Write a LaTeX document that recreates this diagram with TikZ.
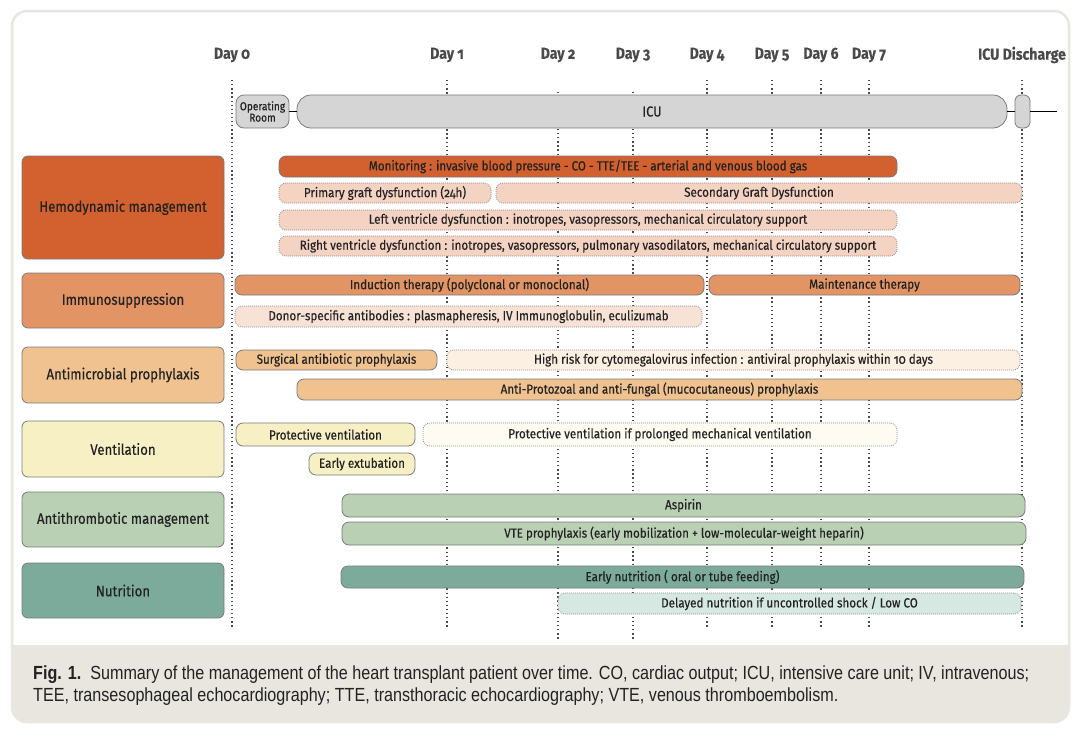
\documentclass[tikz,border=0pt]{standalone}
\usepackage{fontspec}
\setmainfont[Numbers=OldStyle,FakeStretch=0.88,FakeBold=0.35]{Fira Sans}
\newfontfamily\capfont[FakeStretch=0.85]{Liberation Sans}
\usetikzlibrary{positioning}
\definecolor{framec}{HTML}{E9E6E0}
\definecolor{boxline}{HTML}{7A7A7A}
\definecolor{dotline}{HTML}{8C8C8C}
\definecolor{dayc}{HTML}{4A4A4A}
\definecolor{txt}{HTML}{222222}
\definecolor{icugray}{HTML}{D5D5D5}
\definecolor{hemo}{HTML}{D2612F}
\definecolor{hemolight}{HTML}{F5D3C3}
\definecolor{immuno}{HTML}{E39464}
\definecolor{immunolight}{HTML}{F8E2D5}
\definecolor{micro}{HTML}{EFC290}
\definecolor{microlight}{HTML}{FCF0E2}
\definecolor{vent}{HTML}{F6F0C4}
\definecolor{ventlight}{HTML}{FEFCF2}
\definecolor{thromb}{HTML}{B9D0B4}
\definecolor{nutri}{HTML}{7CAA9B}
\definecolor{nutrilight}{HTML}{D5E8E2}
\tikzset{
  catbox/.style={draw=boxline,line width=0.8pt,rounded corners=6pt,minimum width=202pt,
    inner sep=0pt,outer sep=0pt,text=txt,font=\fontsize{15}{17}\selectfont},
  solidbar/.style={draw=boxline,line width=0.8pt,rounded corners=7pt,inner sep=0pt,
    outer sep=0pt,text=txt,font=\fontsize{13.2}{15}\selectfont},
  dotbar/.style={solidbar,draw=dotline,line width=0.7pt,dash pattern=on 0.9pt off 1.1pt},
  dayline/.style={draw=dayc,line width=1.3pt,dash pattern=on 1.3pt off 2.8pt},
  daylabel/.style={text=dayc,font=\bfseries\fontsize{16}{18}\selectfont},
  timebox/.style={draw=boxline,line width=0.8pt,fill=icugray,rounded corners=8pt,
    inner sep=0pt,outer sep=0pt,minimum height=33pt,text=txt}
}

\begin{document}
\begin{tikzpicture}[x=1pt,y=-1pt]
\useasboundingbox (0,0) rectangle (1080,729);
% frame and caption band
\begin{scope}
\clip[rounded corners=15pt] (12,11) rectangle (1069,722);
\fill[framec] (0,645) rectangle (1080,729);
\end{scope}
\draw[framec,line width=2.5pt,rounded corners=15pt] (12,11) rectangle (1069,722);
%
\node (d0) [daylabel] at (232,55) {Day 0};
\node (d1) [daylabel] at (447,55) {Day 1};
\node (d2) [daylabel] at (558,55) {Day 2};
\node (d3) [daylabel] at (633,55) {Day 3};
\node (d4) [daylabel] at (707,55) {Day 4};
\node (d5) [daylabel] at (772,55) {Day 5};
\node (d6) [daylabel] at (821,55) {Day 6};
\node (d7) [daylabel] at (869,55) {Day 7};
\node (dis) [daylabel] at (1022,55) {ICU Discharge};
%
\path[dayline] (d0 |- 0,80) edge (d0 |- 0,628);
\path[dayline] (d1 |- 0,80) edge (d1 |- 0,628);
\path[dayline] (d2 |- 0,92) edge (d2 |- 0,640);
\path[dayline] (d3 |- 0,92) edge (d3 |- 0,640);
\path[dayline] (d4 |- 0,80) edge (d4 |- 0,628);
\path[dayline] (d5 |- 0,80) edge (d5 |- 0,628);
\path[dayline] (d6 |- 0,80) edge (d6 |- 0,628);
\path[dayline] (d7 |- 0,80) edge (d7 |- 0,628);
\path[dayline] (dis |- 0,80) edge (dis |- 0,628);
%
\node (or) [timebox,minimum width=53pt,align=center,font=\fontsize{11.5}{10}\selectfont] at (262.5,111.5) {Operating\\Room};
\node (icu) [timebox,minimum width=710pt,rounded corners=14pt,font=\fontsize{14.5}{16}\selectfont] at (652,111.5) {ICU};
\node (out) [timebox,minimum width=15pt,rounded corners=6pt] at (1022.5,111.5) {};
\coordinate (end) at (1057,111.5);
\path[draw=black,line width=1.2pt] (or) edge (icu) (icu) edge (out) (out) edge (end);
%
\node (hemo) [catbox,fill=hemo,minimum height=103pt] at (123,207.5) {Hemodynamic management};
\node (immu) [catbox,fill=immuno,minimum height=55pt] at (123,300.5) {Immunosuppression};
\node (anti) [catbox,fill=micro,minimum height=56pt] at (123,375) {Antimicrobial prophylaxis};
\node (vent) [catbox,fill=vent,minimum height=56pt] at (123,449) {Ventilation};
\node (thro) [catbox,fill=thromb,minimum height=55pt] at (123,519.5) {Antithrombotic management};
\node (nutr) [catbox,fill=nutri,minimum height=55pt] at (123,590.5) {Nutrition};
%
\node (mon) [solidbar,fill=hemo,minimum width=618pt,minimum height=21pt] at (588,166.5) {Monitoring : invasive blood pressure - CO - TTE/TEE - arterial and venous blood gas};
\node (pgd) [dotbar,fill=hemolight,minimum width=212pt,minimum height=20pt] at (385,193) {Primary graft dysfunction (24h)};
\node (sgd) [dotbar,fill=hemolight,minimum width=526pt,minimum height=20pt] at (759,193) {Secondary Graft Dysfunction};
\node (lvd) [dotbar,fill=hemolight,minimum width=618pt,minimum height=20pt] at (588,220) {Left ventricle dysfunction : inotropes, vasopressors, mechanical circulatory support};
\node (rvd) [dotbar,fill=hemolight,minimum width=618pt,minimum height=20pt] at (588,246) {Right ventricle dysfunction : inotropes, vasopressors, pulmonary vasodilators, mechanical circulatory support};
%
\node (ind) [solidbar,fill=immuno,minimum width=469pt,minimum height=20pt] at (469.5,285) {Induction therapy (polyclonal or monoclonal)};
\node (mnt) [solidbar,fill=immuno,minimum width=311pt,minimum height=20pt] at (864.5,285) {Maintenance therapy};
\node (dsa) [dotbar,fill=immunolight,minimum width=467pt,minimum height=21pt] at (468.5,316.5) {Donor-specific antibodies : plasmapheresis, IV Immunoglobulin, eculizumab};
%
\node (sap) [solidbar,fill=micro,minimum width=201pt,minimum height=20pt] at (336.5,360) {Surgical antibiotic prophylaxis};
\node (cmv) [dotbar,fill=microlight,minimum width=573pt,minimum height=20pt] at (733.5,360) {High risk for cytomegalovirus infection : antiviral prophylaxis within 10 days};
\node (apf) [solidbar,fill=micro,minimum width=725pt,minimum height=21pt] at (659.5,389.5) {Anti-Protozoal and anti-fungal (mucocutaneous) prophylaxis};
%
\node (pv) [solidbar,fill=vent,minimum width=179pt,minimum height=23pt] at (325.5,434.5) {Protective ventilation};
\node (pvp) [dotbar,fill=ventlight,minimum width=474pt,minimum height=23pt] at (660,434.5) {Protective ventilation if prolonged mechanical ventilation};
\node (ext) [solidbar,fill=vent,minimum width=106pt,minimum height=22pt] at (362,464) {Early extubation};
%
\node (asp) [solidbar,fill=thromb,minimum width=683pt,minimum height=23pt] at (683.5,505.5) {Aspirin};
\node (vte) [solidbar,fill=thromb,minimum width=684pt,minimum height=23pt] at (684,533.5) {VTE prophylaxis (early mobilization + low-molecular-weight heparin)};
%
\node (enu) [solidbar,fill=nutri,minimum width=683pt,minimum height=22pt] at (682.5,577) {Early nutrition ( oral or tube feeding)};
\node (dnu) [dotbar,fill=nutrilight,minimum width=463pt,minimum height=21pt] at (789.5,603.5) {Delayed nutrition if uncontrolled shock / Low CO};
%
\node (cap1) [anchor=west,inner sep=0pt,text=txt,font=\capfont\fontsize{19}{22}\selectfont] at (33,675) {\textbf{Fig. 1.}\ \ Summary of the management of the heart transplant patient over time. CO, cardiac output; ICU, intensive care unit; IV, intravenous;};
\node (cap2) [anchor=west,inner sep=0pt,text=txt,font=\capfont\fontsize{19}{22}\selectfont] at (33,697) {TEE, transesophageal echocardiography; TTE, transthoracic echocardiography; VTE, venous thromboembolism.};
\end{tikzpicture}
\end{document}
